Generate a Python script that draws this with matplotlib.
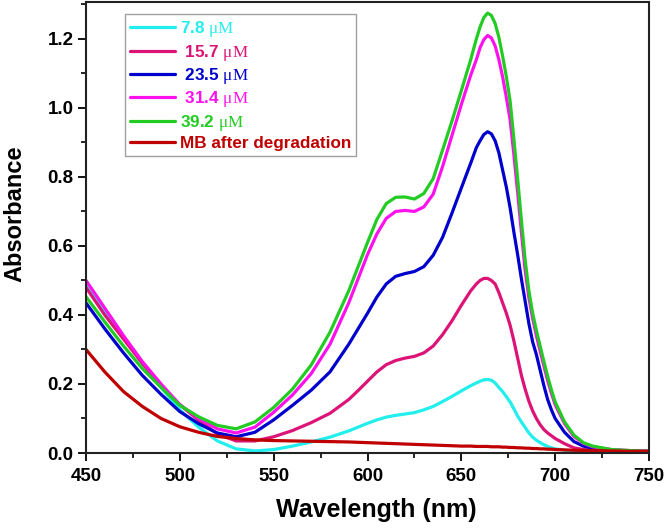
import matplotlib
matplotlib.use("Agg")
import matplotlib.pyplot as plt
from matplotlib.ticker import MultipleLocator, FormatStrFormatter
from matplotlib.font_manager import FontProperties

plt.rcParams['font.family'] = ['Liberation Sans', 'DejaVu Sans']
plt.rcParams['mathtext.fontset'] = 'custom'
plt.rcParams['mathtext.rm'] = 'Liberation Serif'
plt.rcParams['mathtext.it'] = 'Liberation Serif:italic'
plt.rcParams['mathtext.bf'] = 'Liberation Sans:bold'

wavelength = [450, 460, 470, 480, 490, 500, 510, 520, 530, 540, 550, 560, 570, 580, 590,
              595, 600, 605, 610, 615, 620, 625, 630, 635, 640, 645, 650, 655,
              658, 660, 662, 664, 666, 668, 670, 672, 674, 676, 678, 680, 682, 684, 686, 688,
              690, 692, 694, 696, 698, 700,
              705, 710, 715, 720, 730, 740, 750]

abs_7_8 = [0.485, 0.41, 0.335, 0.26, 0.19, 0.125, 0.075, 0.035, 0.012, 0.006, 0.01, 0.02, 0.032, 0.046, 0.064,
           0.075, 0.086, 0.096, 0.104, 0.109, 0.113, 0.117, 0.125, 0.135, 0.149, 0.164, 0.18, 0.195,
           0.203, 0.208, 0.212, 0.213, 0.211, 0.203, 0.19, 0.178, 0.163, 0.148, 0.128, 0.107, 0.09, 0.074, 0.058, 0.046,
           0.037, 0.03, 0.024, 0.019, 0.015, 0.012,
           0.008, 0.006, 0.005, 0.005, 0.004, 0.004, 0.004]

abs_15_7 = [0.48, 0.40, 0.33, 0.26, 0.195, 0.14, 0.095, 0.055, 0.035, 0.035, 0.047, 0.065, 0.088, 0.115, 0.155,
            0.181, 0.208, 0.235, 0.256, 0.268, 0.275, 0.28, 0.29, 0.31, 0.343, 0.383, 0.428, 0.47,
            0.49, 0.50, 0.506, 0.506, 0.50, 0.49, 0.465, 0.435, 0.405, 0.37, 0.325, 0.275, 0.225, 0.185, 0.15, 0.122,
            0.10, 0.082, 0.068, 0.058, 0.05, 0.042,
            0.027, 0.015, 0.01, 0.008, 0.006, 0.005, 0.004]

abs_23_5 = [0.435, 0.36, 0.29, 0.225, 0.17, 0.12, 0.085, 0.058, 0.047, 0.06, 0.096, 0.138, 0.182, 0.235, 0.315,
            0.36, 0.405, 0.452, 0.49, 0.512, 0.52, 0.526, 0.54, 0.573, 0.625, 0.695, 0.768, 0.84,
            0.885, 0.905, 0.923, 0.931, 0.925, 0.905, 0.87, 0.82, 0.77, 0.71, 0.64, 0.575, 0.505, 0.44, 0.375, 0.322,
            0.285, 0.24, 0.195, 0.155, 0.125, 0.10,
            0.06, 0.033, 0.02, 0.014, 0.009, 0.006, 0.005]

abs_31_4 = [0.50, 0.42, 0.34, 0.265, 0.20, 0.14, 0.10, 0.07, 0.058, 0.075, 0.118, 0.168, 0.23, 0.315, 0.435,
            0.505, 0.575, 0.635, 0.68, 0.70, 0.703, 0.70, 0.713, 0.75, 0.83, 0.92, 1.01, 1.095,
            1.14, 1.175, 1.198, 1.21, 1.203, 1.18, 1.14, 1.09, 1.03, 0.965, 0.865, 0.755, 0.64, 0.53, 0.45, 0.39,
            0.34, 0.295, 0.252, 0.21, 0.173, 0.14,
            0.085, 0.048, 0.028, 0.018, 0.01, 0.007, 0.005]

abs_39_2 = [0.453, 0.38, 0.31, 0.245, 0.19, 0.138, 0.105, 0.08, 0.07, 0.09, 0.132, 0.185, 0.255, 0.35, 0.47,
            0.54, 0.61, 0.677, 0.723, 0.741, 0.742, 0.736, 0.752, 0.795, 0.878, 0.962, 1.05, 1.14,
            1.20, 1.235, 1.262, 1.275, 1.268, 1.245, 1.205, 1.15, 1.09, 1.02, 0.91, 0.795, 0.675, 0.56, 0.47, 0.405,
            0.355, 0.31, 0.265, 0.222, 0.183, 0.148,
            0.09, 0.052, 0.03, 0.02, 0.01, 0.007, 0.005]

abs_after = [0.30, 0.235, 0.178, 0.135, 0.10, 0.076, 0.06, 0.048, 0.042, 0.038, 0.036, 0.035, 0.034, 0.033, 0.032,
             0.031, 0.03, 0.029, 0.028, 0.027, 0.026, 0.025, 0.024, 0.023, 0.022, 0.021, 0.02, 0.02,
             0.019, 0.019, 0.019, 0.019, 0.018, 0.018, 0.018, 0.017, 0.017, 0.016, 0.016, 0.015, 0.015, 0.014, 0.014, 0.013,
             0.013, 0.012, 0.012, 0.011, 0.011, 0.01,
             0.009, 0.008, 0.0075, 0.007, 0.006, 0.005, 0.005]

labels = ['7.8 $\\mathrm{\\mu M}$', ' 15.7 $\\mathrm{\\mu M}$', ' 23.5 $\\mathrm{\\mu M}$',
          ' 31.4 $\\mathrm{\\mu M}$', '39.2 $\\mathrm{\\mu M}$', 'MB after degradation']
series = [abs_7_8, abs_15_7, abs_23_5, abs_31_4, abs_39_2, abs_after]
colors = ['#22EEEE', '#DD1477', '#0000CC', '#FF11EE', '#22CC22', '#C00000']

fig = plt.figure(figsize=(6.64, 5.29), dpi=100)
ax = fig.add_axes([86 / 664, 76 / 529, 563 / 664, 451 / 529])

handles = []
for y, c, lab in zip(series, colors, labels):
    h, = ax.plot(wavelength, y, color=c, lw=2.3, label=lab,
                 solid_joinstyle='round', solid_capstyle='round')
    handles.append(h)

ax.set_xlim(450, 750)
ax.set_ylim(0, 1.307)
ax.xaxis.set_major_locator(MultipleLocator(50))
ax.xaxis.set_minor_locator(MultipleLocator(25))
ax.yaxis.set_major_locator(MultipleLocator(0.2))
ax.yaxis.set_minor_locator(MultipleLocator(0.1))
ax.yaxis.set_major_formatter(FormatStrFormatter('%.1f'))

ax.tick_params(which='major', direction='out', length=6, width=1.3, labelsize=13.5, pad=3)
ax.tick_params(which='minor', direction='out', length=3.5, width=1.2)
ax.tick_params(axis='x', which='major', pad=5)
for lab in ax.get_xticklabels() + ax.get_yticklabels():
    lab.set_fontweight('bold')
for s in ax.spines.values():
    s.set_linewidth(1.5)
    s.set_color('#222222')

ax.set_xlabel('Wavelength (nm)', fontsize=18, fontweight='bold')
ax.set_ylabel('Absorbance', fontsize=17, fontweight='bold')
ax.xaxis.set_label_coords((376 - 86) / 563, (453 - 498) / 451)
ax.yaxis.set_label_coords((26 - 86) / 563, (453 - 214) / 451)

leg = ax.legend(handles=handles, loc='upper left', bbox_to_anchor=((125 - 86) / 563, (453 - 14) / 451),
                borderaxespad=0, fancybox=False, frameon=True, edgecolor='#888888',
                prop=FontProperties(family='Liberation Sans', weight='bold', size=12.3),
                handlelength=2.6, handletextpad=0.3, labelspacing=0.2, borderpad=0.3)
leg.get_frame().set_linewidth(1.0)
for t, c in zip(leg.get_texts(), colors):
    t.set_color(c)

fig.savefig('out.png', dpi=100)
